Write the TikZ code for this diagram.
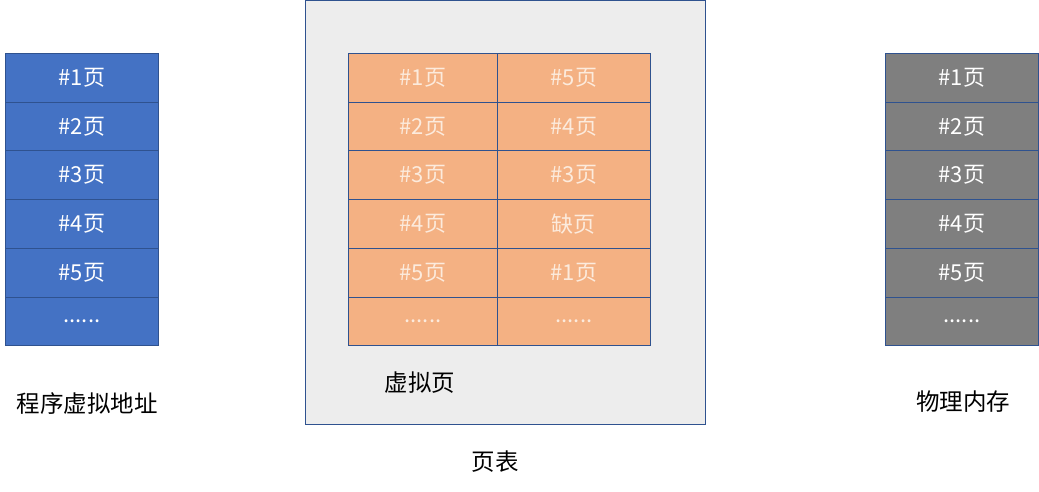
\documentclass[tikz,border=0pt]{standalone}
\usepackage{fontspec}
\setmainfont{Noto Sans CJK SC}
\definecolor{bluecell}{HTML}{4472C4}
\definecolor{blueline}{HTML}{2F528F}
\definecolor{orangecell}{HTML}{F4B183}
\definecolor{graycell}{HTML}{7F7F7F}
\definecolor{panel}{HTML}{EDEDED}
\definecolor{creamtext}{HTML}{FCEBDD}
\newcommand{\mydots}{......}
\begin{document}
\begin{tikzpicture}[x=1pt,y=-1pt,
  cell/.style={draw=blueline,line width=0.8pt,minimum width=153pt,minimum height=48.7pt,inner sep=0pt,anchor=north west,font=\fontsize{22}{22}\selectfont},
  bcell/.style={cell,fill=bluecell,text=white},
  gcell/.style={cell,fill=graycell,text=white},
  ocell/.style={cell,fill=orangecell,text=creamtext,minimum width=149pt},
  lbl/.style={font=\fontsize{23.5}{23.5}\selectfont,text=black,inner sep=0pt}]
\useasboundingbox (0,0) rectangle (1039,492);
\node[draw=blueline,fill=panel,line width=0.8pt,minimum width=400pt,minimum height=423pt,inner sep=0pt,anchor=north west] (panel) at (305,0.5) {};
% left column
\foreach \t [count=\i from 0] in {{\#1页},{\#2页},{\#3页},{\#4页},{\#5页},{\mydots}}
  \node[bcell] (L\i) at (5,53+48.7*\i) {\t};
% right column
\foreach \t [count=\i from 0] in {{\#1页},{\#2页},{\#3页},{\#4页},{\#5页},{\mydots}}
  \node[gcell] (R\i) at (885,53+48.7*\i) {\t};
% table
\foreach \t [count=\i from 0] in {{\#1页},{\#2页},{\#3页},{\#4页},{\#5页},{\mydots}}
  \node[ocell] (A\i) at (348,53+48.7*\i) {\t};
\foreach \t [count=\i from 0] in {{\#5页},{\#4页},{\#3页},{缺页},{\#1页},{\mydots}}
  \node[ocell,minimum width=153pt] (B\i) at (497,53+48.7*\i) {\t};
\node[lbl] (vaddr) at (87,404) {程序虚拟地址};
\node[lbl] (vpage) at (420,383) {虚拟页};
\node[lbl] (ptable) at (495,462) {页表};
\node[lbl] (pmem) at (963,402) {物理内存};
\end{tikzpicture}
\end{document}
